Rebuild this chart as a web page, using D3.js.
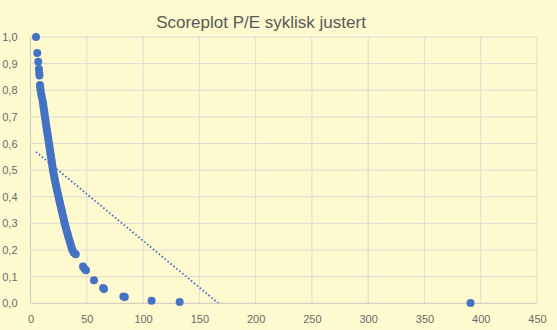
<!DOCTYPE html>
<html>
<head>
<meta charset="utf-8">
<script src="https://cdn.jsdelivr.net/npm/d3@7"></script>
<style>
  body { margin: 0; background: #fef9ce; }
  svg { display: block; font-family: "Liberation Sans", Arial, sans-serif; }
</style>
</head>
<body>
<svg width="557" height="330"></svg>
<script>
// P/E (syklisk justert) and score
const peValues = [
  4.9, 6.0, 6.9, 7.5, 7.8, 8.0, 8.4, 8.7, 9.0, 9.5, 10.0,
  10.8, 11.2, 11.5, 11.8, 12.2, 12.5, 12.8, 13.2, 13.5, 13.9,
  14.2, 14.6, 15.0, 15.3, 15.7, 16.0, 16.4, 16.8, 17.1, 17.5,
  17.8, 18.2, 18.6, 18.9, 19.3, 19.6, 20.0, 20.4, 20.9, 21.3,
  21.8, 22.3, 22.8, 23.3, 23.8, 24.4, 24.9, 25.4, 26.0, 26.5,
  27.1, 27.6, 28.2, 28.7, 29.3, 29.8, 30.4, 31.0, 31.7, 32.3,
  33.0, 33.6, 34.3, 35.0, 35.8, 36.5, 37.2, 38.5, 40.2,
  46.6, 48.0, 49.3, 56.4, 64.5, 65.3, 82.5, 83.8, 107.6, 132.5, 391
]
const scoreValues = [
  1.0, 0.94, 0.907, 0.88, 0.865, 0.855, 0.82, 0.81, 0.80, 0.785, 0.775,
  0.76, 0.75, 0.74, 0.73, 0.72, 0.71, 0.70, 0.69, 0.68, 0.67,
  0.66, 0.65, 0.64, 0.63, 0.62, 0.61, 0.60, 0.59, 0.58, 0.57,
  0.56, 0.55, 0.54, 0.53, 0.52, 0.51, 0.50, 0.49, 0.48, 0.47,
  0.46, 0.45, 0.44, 0.43, 0.42, 0.41, 0.40, 0.39, 0.38, 0.37,
  0.36, 0.35, 0.34, 0.33, 0.32, 0.31, 0.30, 0.29, 0.28, 0.27,
  0.26, 0.25, 0.24, 0.23, 0.22, 0.21, 0.20, 0.19, 0.184,
  0.138, 0.13, 0.124, 0.087, 0.057, 0.054, 0.026, 0.024, 0.01, 0.005, 0.001
]
// linear trendline (Excel)
const trendIntercept = 0.586
const trendSlope = -0.00351

const xTicks = [0, 50, 100, 150, 200, 250, 300, 350, 400, 450]
const yTicks = [0, 0.1, 0.2, 0.3, 0.4, 0.5, 0.6, 0.7, 0.8, 0.9, 1.0]

const svg = d3.select('svg')
const margin = {top: 37, right: 20, bottom: 27, left: 30.5}
const width = 537 - margin.left
const height = 303.3 - margin.top

svg.append('rect').attr('width', 557).attr('height', 330).attr('fill', '#fef9ce')

svg.append('text')
  .attr('x', 261)
  .attr('y', 27.5)
  .attr('text-anchor', 'middle')
  .attr('font-size', 17)
  .attr('fill', '#595959')
  .text('Scoreplot P/E syklisk justert')

const g = svg.append('g').attr('transform', 'translate(' + margin.left + ',' + margin.top + ')')

const x = d3.scaleLinear().domain([0, 450]).range([0, width])
const y = d3.scaleLinear().domain([0, 1]).range([height, 0])

// gridlines
g.append('g')
  .selectAll('line.v')
  .data(xTicks)
  .enter().append('line')
    .attr('x1', d => x(d)).attr('x2', d => x(d))
    .attr('y1', 0).attr('y2', height)
    .attr('stroke', d => d === 0 ? '#c8c8c0' : '#dcdcd4')
    .attr('stroke-width', 1)

g.append('g')
  .selectAll('line.h')
  .data(yTicks)
  .enter().append('line')
    .attr('y1', d => y(d)).attr('y2', d => y(d))
    .attr('x1', 0).attr('x2', width)
    .attr('stroke', d => d === 0 ? '#c8c8c0' : '#dcdcd4')
    .attr('stroke-width', 1)

// axes labels
const xAxis = g.append('g')
  .attr('transform', 'translate(0,' + height + ')')
  .call(d3.axisBottom(x).tickValues(xTicks).tickSize(0).tickPadding(12))
xAxis.select('.domain').remove()

const fmt = d3.format('.1f')
const yAxis = g.append('g')
  .call(d3.axisLeft(y).tickValues(yTicks).tickSize(0).tickPadding(13)
    .tickFormat(d => fmt(d).replace('.', ',')))
yAxis.select('.domain').remove()

svg.selectAll('.tick text')
  .attr('font-size', 11)
  .attr('fill', '#6b6b6b')
  .attr('font-family', '"Liberation Sans", Arial, sans-serif')

// trendline, clipped to plot area
svg.append('clipPath').attr('id', 'plotclip')
  .append('rect').attr('width', width).attr('height', height)

const xMin = d3.min(peValues)
const xMax = d3.max(peValues)
g.append('line')
  .attr('clip-path', 'url(#plotclip)')
  .attr('x1', x(xMin))
  .attr('y1', y(trendIntercept + trendSlope * xMin))
  .attr('x2', x(xMax))
  .attr('y2', y(trendIntercept + trendSlope * xMax))
  .attr('stroke', '#4472c4')
  .attr('stroke-width', 1.8)
  .attr('stroke-dasharray', '1.6,2.2')

// points
g.append('g')
  .selectAll('circle')
  .data(peValues.map((v, i) => ({pe: v, score: scoreValues[i]})))
  .enter().append('circle')
    .attr('cx', d => x(d.pe))
    .attr('cy', d => y(d.score))
    .attr('r', 4)
    .attr('fill', '#4472c4')
</script>
</body>
</html>
